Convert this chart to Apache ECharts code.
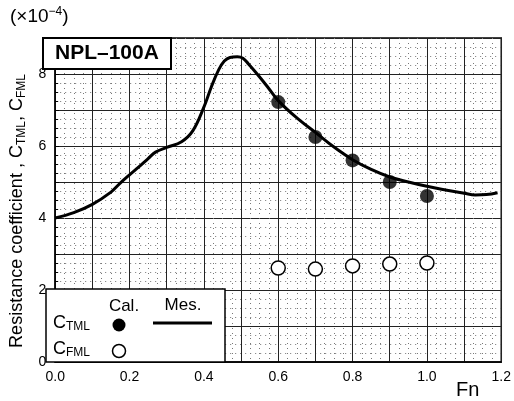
<!DOCTYPE html>
<html><head><meta charset="utf-8">
<script src="https://cdn.jsdelivr.net/npm/echarts@6/dist/echarts.min.js"></script>
<style>html,body{margin:0;padding:0;background:#fff}#c{width:514px;height:401px}</style>
</head><body><div id="c"></div>
<script>
// Data
const fnCal = [0.6, 0.7, 0.8, 0.9, 1.0];
const ctmlCal = [7.22, 6.25, 5.6, 5.0, 4.61];
const cfmlCal = [2.61, 2.58, 2.67, 2.72, 2.75];
const mesFn = [0, 0.05, 0.1, 0.15, 0.175, 0.2, 0.225, 0.25, 0.27, 0.3, 0.34, 0.37, 0.4, 0.42, 0.44, 0.455, 0.47, 0.49, 0.505, 0.52, 0.545, 0.57, 0.6, 0.65, 0.7, 0.75, 0.8, 0.85, 0.9, 0.95, 1.0, 1.05, 1.1, 1.13, 1.16, 1.19];
const mesCtml = [4.0, 4.15, 4.38, 4.72, 4.97, 5.2, 5.42, 5.65, 5.83, 5.96, 6.12, 6.42, 7.08, 7.64, 8.12, 8.36, 8.46, 8.48, 8.44, 8.28, 7.98, 7.66, 7.26, 6.78, 6.38, 5.97, 5.62, 5.35, 5.14, 5.0, 4.88, 4.78, 4.69, 4.64, 4.65, 4.7];
const xTicks = ['0.0', '0.2', '0.4', '0.6', '0.8', '1.0', '1.2'];
const yTicks = ['0', '2', '4', '6', '8'];

const FONT = 'Liberation Sans, Arial, sans-serif';
const chart = echarts.init(document.getElementById('c'));
chart.setOption({
  animation: false,
  backgroundColor: '#fff',
  textStyle: {fontFamily: FONT},
  title: {
    text: 'NPL–100A', left: 43, top: 38,
    textStyle: {fontFamily: FONT, fontWeight: 'bold', fontSize: 21, color: '#000'},
    padding: [5, 12, 5, 12], borderWidth: 2, borderColor: '#000', backgroundColor: '#fff'
  },
  grid: {left: 43, right: 9, top: 38, bottom: 39, show: true, borderColor: '#000', borderWidth: 1.5, backgroundColor: '#fff'},
  xAxis: {
    type: 'value', min: 0, max: 1.2, interval: 0.1,
    name: 'Fn', nameLocation: 'end', nameGap: -22,
    nameTextStyle: {fontFamily: FONT, fontSize: 20, color: '#000', align: 'right', verticalAlign: 'top', padding: [18, 0, 0, 0]},
    axisLine: {show: true, lineStyle: {color: '#000', width: 1.5}},
    axisTick: {show: false},
    axisLabel: {fontFamily: FONT, fontSize: 14, color: '#000', margin: 8, showMaxLabel: true,
      formatter: v => { const s = v.toFixed(1); return xTicks.indexOf(s) >= 0 ? s : ''; }},
    splitLine: {show: true, lineStyle: {color: '#222', width: 1}},
    minorTick: {show: false, splitNumber: 4},
    minorSplitLine: {show: true, lineStyle: {color: '#777', width: 1, type: [1, 4]}}
  },
  yAxis: {
    type: 'value', min: 0, max: 9, interval: 1,
    name: 'Resistance coefficient , C{sub|TML}, C{sub|FML}',
    nameLocation: 'middle', nameGap: 26, nameRotate: 90,
    nameTextStyle: {fontFamily: FONT, fontSize: 18, color: '#000', padding: [0, 22, 0, 0],
      rich: {sub: {fontFamily: FONT, fontSize: 12, color: '#000', padding: [9, 0, 0, 0]}}},
    axisLine: {show: true, lineStyle: {color: '#000', width: 1.5}},
    axisTick: {show: true, inside: true, length: 4, lineStyle: {color: '#000'}},
    minorTick: {show: true, splitNumber: 4, length: 3, lineStyle: {color: '#000'}},
    axisLabel: {fontFamily: FONT, fontSize: 14, color: '#000', margin: 9,
      formatter: v => { const s = String(Math.round(v)); return yTicks.indexOf(s) >= 0 ? s : ''; }},
    splitLine: {show: true, lineStyle: {color: '#222', width: 1}},
    minorSplitLine: {show: true, lineStyle: {color: '#777', width: 1, type: [1, 4]}}
  },
  series: [
    {name: 'Mes.', type: 'line', smooth: 0.4, symbol: 'none',
      lineStyle: {color: '#000', width: 3}, z: 3,
      data: mesFn.map((x, i) => [x, mesCtml[i]])},
    {name: 'C_TML Cal.', type: 'scatter', symbol: 'circle', symbolSize: 14, z: 4,
      itemStyle: {color: '#000'},
      data: fnCal.map((x, i) => [x, ctmlCal[i]])},
    {name: 'C_FML Cal.', type: 'scatter', symbol: 'circle', symbolSize: 14, z: 4,
      itemStyle: {color: '#fff', borderColor: '#000', borderWidth: 1.5, opacity: 1},
      data: fnCal.map((x, i) => [x, cfmlCal[i]])}
  ],
  graphic: [
    {type: 'text', left: 10, top: 6, z: 100,
      style: {text: '(×10{sup|−4})', fill: '#000', font: '19px ' + FONT,
        rich: {sup: {fontFamily: FONT, fontSize: 12, color: '#000', padding: [0, 0, 10, 0]}}}},
    {type: 'group', z: 100, children: [
      {type: 'rect', shape: {x: 46, y: 289, width: 179, height: 73}, style: {fill: '#fff', stroke: '#000', lineWidth: 1.5}, z: 100},
      {type: 'text', x: 124, y: 306, z: 101, style: {text: 'Cal.', fill: '#000', font: '17px ' + FONT, textAlign: 'center', textVerticalAlign: 'middle'}},
      {type: 'text', x: 183, y: 305, z: 101, style: {text: 'Mes.', fill: '#000', font: '17px ' + FONT, textAlign: 'center', textVerticalAlign: 'middle'}},
      {type: 'text', x: 53, y: 323, z: 101, style: {text: 'C{sub|TML}', fill: '#000', font: '18px ' + FONT, textVerticalAlign: 'middle',
        rich: {sub: {fontFamily: FONT, fontSize: 12, color: '#000', padding: [8, 0, 0, 0]}}}},
      {type: 'text', x: 53, y: 349, z: 101, style: {text: 'C{sub|FML}', fill: '#000', font: '18px ' + FONT, textVerticalAlign: 'middle',
        rich: {sub: {fontFamily: FONT, fontSize: 12, color: '#000', padding: [8, 0, 0, 0]}}}},
      {type: 'circle', shape: {cx: 119, cy: 325, r: 6.5}, style: {fill: '#000'}, z: 101},
      {type: 'circle', shape: {cx: 119, cy: 351, r: 6.5}, style: {fill: '#fff', stroke: '#000', lineWidth: 1.5}, z: 101},
      {type: 'line', shape: {x1: 153, y1: 323, x2: 212, y2: 323}, style: {stroke: '#000', lineWidth: 3}, z: 101}
    ]}
  ]
});
</script></body></html>
